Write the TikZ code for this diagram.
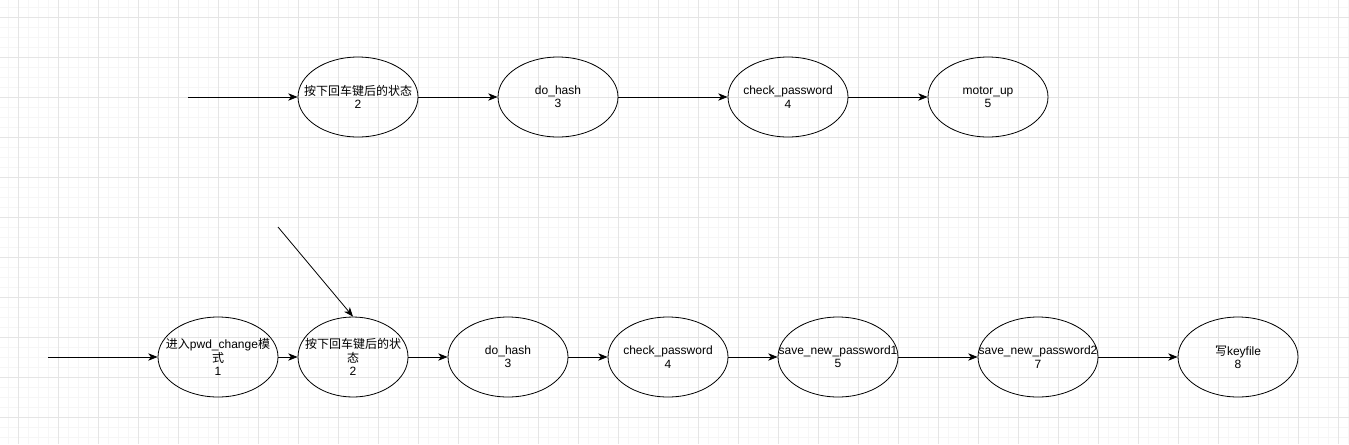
\documentclass[tikz,border=0pt]{standalone}
\usepackage{fontspec}
\setmainfont{Liberation Sans}
\newfontfamily\cjk{Noto Sans CJK SC}
\usetikzlibrary{shapes.geometric,arrows.meta}
\definecolor{gridminor}{rgb}{0.965,0.965,0.965}
\definecolor{gridmajor}{rgb}{0.9,0.9,0.9}

\begin{document}
\begin{tikzpicture}[x=0.75pt, y=-0.75pt,
    state/.style={draw, ellipse, line width=0.6pt, minimum width=90pt, minimum height=60pt, inner sep=0pt},
    tr/.style={-{Stealth[length=7pt, width=5.5pt, inset=2pt]}, line width=0.6pt},
    every label/.style={align=center, inner sep=0pt, font=\fontsize{9}{10}\selectfont}]
    \useasboundingbox (0,0) rectangle (1349,444);
    \fill[white] (0,0) rectangle (1349,444);

    \foreach \x in {8,18,...,1348} \draw[gridminor, line width=0.6pt] (\x,0) -- (\x,444);
    \foreach \y in {7,17,...,437} \draw[gridminor, line width=0.6pt] (0,\y) -- (1349,\y);
    \foreach \x in {18,58,...,1338} \draw[gridmajor, line width=0.6pt] (\x,0) -- (\x,444);
    \foreach \y in {17,57,...,417} \draw[gridmajor, line width=0.6pt] (0,\y) -- (1349,\y);

    \coordinate (tin) at (188,97);
    \node[state, label={center:{\cjk 按下回车键后的状态}\\2}] (t2) at (358,97) {};
    \node[state, label={center:do\_hash\\3}] (t3) at (558,97) {};
    \node[state, label={center:check\_password\\4}] (t4) at (788,97) {};
    \node[state, label={center:motor\_up\\5}] (t5) at (988,97) {};

    \draw[tr] (tin) -- (t2);
    \draw[tr] (t2) -- (t3);
    \draw[tr] (t3) -- (t4);
    \draw[tr] (t4) -- (t5);

    \coordinate (bin) at (48,357);
    \coordinate (bdiag) at (278,227);
    \node[state, label={center:{\cjk 进入}pwd\_change{\cjk 模}\\{\cjk 式}\\1}] (b1) at (218,357) {};
    \node[state, minimum width=82.5pt, label={center:{\cjk 按下回车键后的状}\\{\cjk 态}\\2}] (b2) at (353,357) {};
    \node[state, label={center:do\_hash\\3}] (b3) at (508,357) {};
    \node[state, label={center:check\_password\\4}] (b4) at (668,357) {};
    \node[state, label={center:save\_new\_password1\\5}] (b5) at (838,357) {};
    \node[state, label={center:save\_new\_password2\\7}] (b7) at (1038,357) {};
    \node[state, label={center:{\cjk 写}keyfile\\8}] (b8) at (1238,357) {};

    \draw[tr] (bin) -- (b1);
    \draw[tr] (bdiag) -- (b2.north);
    \draw[tr] (b1) -- (b2);
    \draw[tr] (b2) -- (b3);
    \draw[tr] (b3) -- (b4);
    \draw[tr] (b4) -- (b5);
    \draw[tr] (b5) -- (b7);
    \draw[tr] (b7) -- (b8);
\end{tikzpicture}
\end{document}
